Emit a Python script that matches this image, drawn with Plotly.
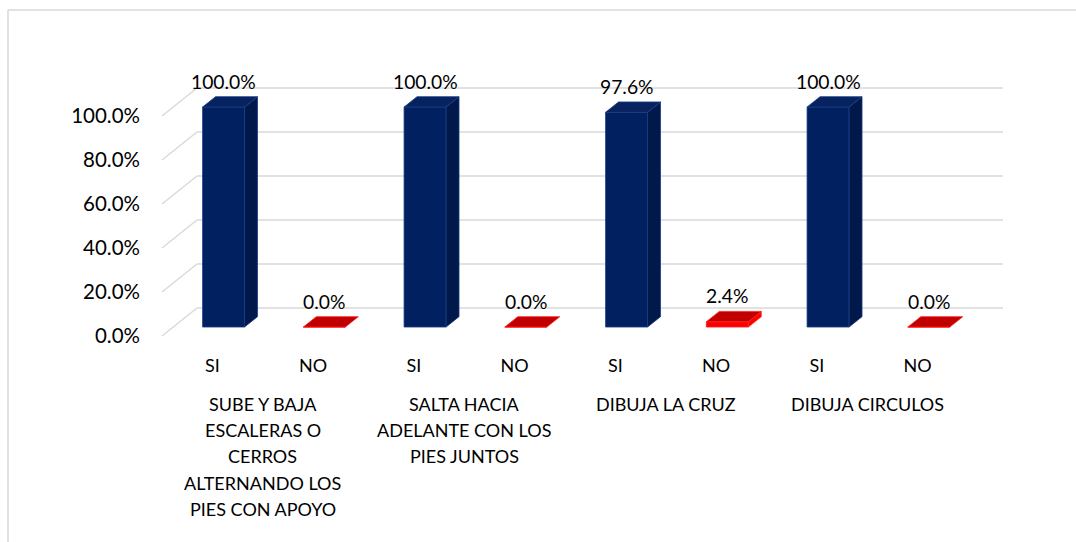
import plotly.graph_objects as go

# ---------------- data ----------------
group_lines = [
    ["SUBE Y BAJA", "ESCALERAS O", "CERROS", "ALTERNANDO LOS", "PIES CON APOYO"],
    ["SALTA HACIA", "ADELANTE CON LOS", "PIES JUNTOS"],
    ["DIBUJA LA CRUZ"],
    ["DIBUJA CIRCULOS"],
]
answers = ["SI", "NO"]
si_values = [100.0, 100.0, 97.6, 100.0]
no_values = [0.0, 0.0, 2.4, 0.0]
y_tick_vals = [0, 20, 40, 60, 80, 100]
y_tick_text = ["0.0%", "20.0%", "40.0%", "60.0%", "80.0%", "100.0%"]

# ---------------- layout constants ----------------
W, H = 1076, 542
PL, PR, PT, PB = 141, 1010, 70, 345          # plot area in pixels
X0PX, XPX = 162, 100.75                        # pixel of x=0, px per slot
Y0PX, YPX = 336, 2.2                           # pixel of y=0, px per unit
DX, DY = 35 / XPX, 28 / YPX                    # depth vector (data units)
F1, F2 = 0.32, 0.69                            # bar depth (front/back fraction)
BW = 0.417                                     # bar width (slots)
FONT = "Lato"

n_groups = len(si_values)
n_slots = n_groups * len(answers)

def px2x(p):
    return (p - X0PX) / XPX

def px2y(p):
    return (Y0PX - p) / YPX

fig = go.Figure()

# ---------------- grid (back wall + side wall), below the bars ----------------
grid_line = dict(color="#D9D9D9", width=1.5)
for v in y_tick_vals:
    fig.add_shape(type="line", xref="x", yref="y", layer="below",
                  x0=DX, x1=n_slots + DX, y0=v + DY, y1=v + DY, line=grid_line)
    fig.add_shape(type="line", xref="x", yref="y", layer="below",
                  x0=0, x1=DX, y0=v, y1=v + DY, line=grid_line)

# ---------------- bars ----------------
base = F1 * DY
ddx, ddy = (F2 - F1) * DX, (F2 - F1) * DY

def faces(vals, xs):
    sx, sy, tx, ty = [], [], [], []
    for v, x in zip(vals, xs):
        xl, xr = x - BW / 2, x + BW / 2
        b, t = base, base + v
        tx += [xl, xr, xr + ddx, xl + ddx, xl, None]
        ty += [t, t, t + ddy, t + ddy, t, None]
        if v > 0:
            sx += [xr, xr, xr + ddx, xr + ddx, xr, None]
            sy += [b, t, t + ddy, b + ddy, b, None]
    return sx, sy, tx, ty

series = [
    (si_values, 0, "#002060", "#00194A", "#06235F", "#1C3C85"),
    (no_values, 1, "#FF0000", "#FF0000", "#C00000", "#FF2020"),
]
for vals, k, c_front, c_side, c_top, c_edge in series:
    xs = [2 * g + k + 0.5 + F1 * DX for g in range(n_groups)]
    fig.add_trace(go.Bar(x=xs, y=vals, base=base, width=BW,
                         marker=dict(color=c_front, line=dict(color=c_edge, width=0.8)),
                         hoverinfo="skip", showlegend=False))
    sx, sy, tx, ty = faces(vals, xs)
    if sx:
        fig.add_trace(go.Scatter(x=sx, y=sy, mode="lines", fill="toself",
                                 fillcolor=c_side, line=dict(color=c_edge, width=0.8),
                                 hoverinfo="skip", showlegend=False))
    fig.add_trace(go.Scatter(x=tx, y=ty, mode="lines", fill="toself",
                             fillcolor=c_top, line=dict(color=c_edge, width=0.8),
                             hoverinfo="skip", showlegend=False))
    for v, x in zip(vals, xs):
        fig.add_annotation(x=x, y=v + F2 * DY, text=f"{v:.1f}%", showarrow=False,
                           yanchor="bottom", xanchor="center", yshift=2,
                           font=dict(family=FONT, size=19.3, color="black"))

# ---------------- group labels ----------------
for g, lines in enumerate(group_lines):
    for j, line in enumerate(lines):
        fig.add_annotation(x=2 * g + 1, xref="x", y=0, yref="paper",
                           yanchor="middle", yshift=-(404 - PB) - 26.2 * j,
                           text=line, showarrow=False,
                           font=dict(family=FONT, size=18, color="black"))

# ---------------- frame ----------------
def pxx(p):
    return (p - PL) / (PR - PL)

def pxy(p):
    return (PB - p) / (PB - PT)

fig.add_shape(type="line", xref="paper", yref="paper",
              x0=pxx(8), x1=pxx(W + 5), y0=pxy(10), y1=pxy(10),
              line=dict(color="#D9D9D9", width=1.5))
fig.add_shape(type="line", xref="paper", yref="paper",
              x0=pxx(8), x1=pxx(8), y0=pxy(10), y1=pxy(H + 5),
              line=dict(color="#D9D9D9", width=1.5))

fig.update_layout(
    width=W, height=H,
    margin=dict(l=PL, r=W - PR, t=PT, b=H - PB, pad=0),
    plot_bgcolor="white", paper_bgcolor="white",
    barmode="overlay", showlegend=False,
    font=dict(family=FONT, color="black"),
    xaxis=dict(range=[px2x(PL), px2x(PR)], tickvals=[i + 0.5 for i in range(n_slots)],
               ticktext=answers * n_groups, ticks="outside", ticklen=4,
               tickcolor="rgba(0,0,0,0)", showgrid=False, zeroline=False,
               showline=False, tickfont=dict(family=FONT, size=18, color="black"),
               fixedrange=True),
    yaxis=dict(range=[px2y(PB), px2y(PT)], tickvals=y_tick_vals, ticktext=y_tick_text,
               showgrid=False, zeroline=False, showline=False,
               tickfont=dict(family=FONT, size=20.5, color="black"), fixedrange=True),
)

fig.write_html("out.html", config={"displayModeBar": False},
               post_script="document.body.style.margin='0';document.body.style.overflow='hidden';")
